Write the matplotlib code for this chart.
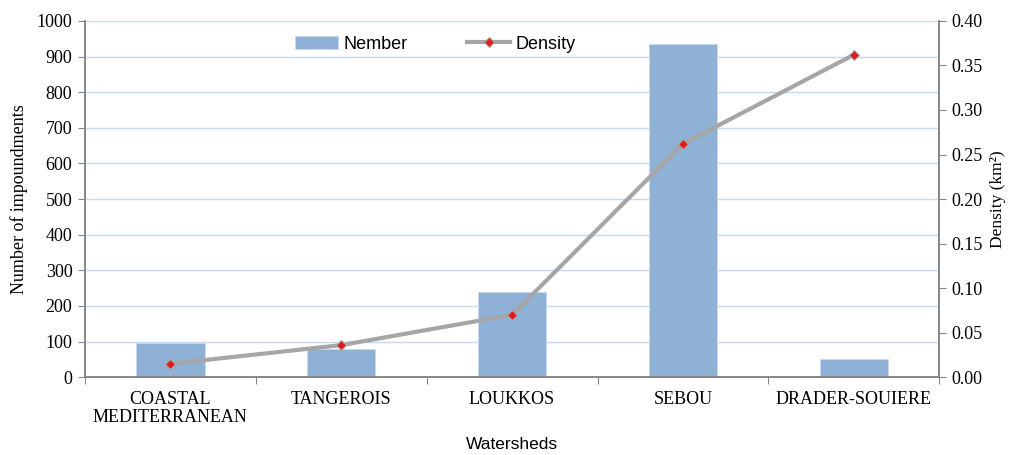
import numpy as np
import matplotlib
matplotlib.use('Agg')
import matplotlib.pyplot as plt
from matplotlib.ticker import FixedLocator, NullFormatter, FormatStrFormatter

categories = ['COASTAL\nMEDITERRANEAN', 'TANGEROIS', 'LOUKKOS', 'SEBOU', 'DRADER-SOUIERE']
number = [95, 80, 240, 935, 52]
density = [0.015, 0.036, 0.070, 0.262, 0.362]

bar_color = '#8fb1d6'
line_color = '#a6a6a6'
axis_color = '#868686'
grid_color = '#c3daf0'
serif = 'Liberation Serif'
sans = 'Liberation Sans'

fig = plt.figure(figsize=(10.11, 4.55), dpi=100)
ax = fig.add_axes([0.084, 0.171, 0.845, 0.783])
ax2 = ax.twinx()

x = np.arange(len(categories))
bars = ax.bar(x, number, width=0.4, color=bar_color, edgecolor='#c9daf0', linewidth=0.6,
              label='Nember', zorder=2)
line, = ax2.plot(x, density, color=line_color, linewidth=3, marker='D', markersize=5,
                 markerfacecolor='#e31a1c', markeredgecolor='#a6a6a6', markeredgewidth=0.8,
                 label='Density', zorder=3)

ax.set_xlim(-0.5, len(categories) - 0.5)
ax.set_ylim(0, 1000)
ax.set_yticks(np.arange(0, 1001, 100))
ax2.set_ylim(0, 0.4)
ax2.set_yticks(np.arange(0, 0.401, 0.05))
ax2.yaxis.set_major_formatter(FormatStrFormatter('%.2f'))

ax.yaxis.grid(True, color=grid_color, linewidth=1)
ax.set_axisbelow(True)

# category boundary ticks, labels in the middle
ax.xaxis.set_major_locator(FixedLocator(np.arange(-0.5, len(categories), 1.0)))
ax.xaxis.set_major_formatter(NullFormatter())
ax.xaxis.set_minor_locator(FixedLocator(x))
ax.set_xticklabels(categories, minor=True, fontsize=13, family=serif, linespacing=1.05)
ax.tick_params(axis='x', which='minor', length=0, pad=10)
ax.tick_params(axis='x', which='major', length=5, color=axis_color, direction='out')

for a in (ax, ax2):
    a.spines['top'].set_visible(False)
    for s in ('left', 'right', 'bottom'):
        a.spines[s].set_color(axis_color)
        a.spines[s].set_linewidth(1.2)
    a.tick_params(axis='y', length=5, color=axis_color, labelsize=13, pad=4)
    for lbl in a.get_yticklabels():
        lbl.set_family(serif)

ax.set_ylabel('Number of impoundments', fontsize=13, family=serif, labelpad=6)
ax2.set_ylabel('Density (km²)', fontsize=12.5, family=serif, labelpad=5)
ax.set_xlabel('Watersheds', fontsize=12.5, family=sans, labelpad=8)

leg = ax.legend([bars, line], ['Nember', 'Density'], loc='center',
                bbox_to_anchor=(0.41, 0.935), ncol=2, frameon=False,
                prop={'family': sans, 'size': 13}, handlelength=2.4, columnspacing=3.3,
                handletextpad=0.3)
leg.set_zorder(5)

fig.savefig('out.png', dpi=100, facecolor='white')
